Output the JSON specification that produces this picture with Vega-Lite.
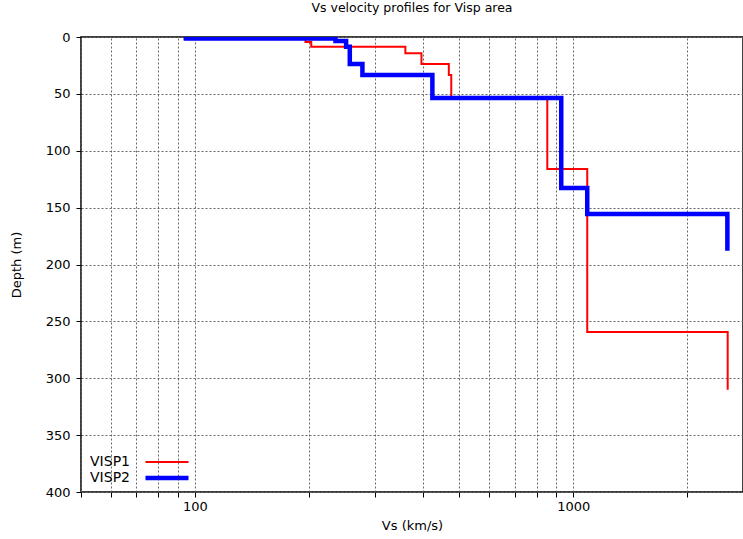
{
  "$schema": "https://vega.github.io/schema/vega-lite/v6.json",
  "width": 662,
  "height": 455,
  "autosize": "none",
  "padding": {"left": 81, "top": 37, "right": 0, "bottom": 47},
  "background": "white",
  "config": {
    "font": "DejaVu Sans",
    "view": {"stroke": "black", "strokeWidth": 1.5},
    "axis": {
      "labelFont": "DejaVu Sans",
      "titleFont": "DejaVu Sans",
      "labelFontSize": 13,
      "titleFontSize": 13,
      "titleFontWeight": "normal",
      "labelColor": "black",
      "titleColor": "black",
      "domain": false,
      "tickColor": "black",
      "gridColor": "#666666",
      "gridDash": [2, 2],
      "gridWidth": 1,
      "gridOpacity": 1
    }
  },
  "title": {
    "text": "Vs velocity profiles for Visp area",
    "font": "DejaVu Sans",
    "fontSize": 12.5,
    "fontWeight": "normal",
    "color": "black",
    "offset": 17
  },
  "data": {
    "values": [
      {"series": "VISP1", "o": 1, "v": 93.4, "d": 1.5},
      {"series": "VISP1", "o": 2, "v": 196, "d": 1.5},
      {"series": "VISP1", "o": 3, "v": 196, "d": 4.5},
      {"series": "VISP1", "o": 4, "v": 203, "d": 4.5},
      {"series": "VISP1", "o": 5, "v": 203, "d": 8.5},
      {"series": "VISP1", "o": 6, "v": 360, "d": 8.5},
      {"series": "VISP1", "o": 7, "v": 360, "d": 14.3},
      {"series": "VISP1", "o": 8, "v": 397, "d": 14.3},
      {"series": "VISP1", "o": 9, "v": 397, "d": 23.7},
      {"series": "VISP1", "o": 10, "v": 469, "d": 23.7},
      {"series": "VISP1", "o": 11, "v": 469, "d": 33.4},
      {"series": "VISP1", "o": 12, "v": 476, "d": 33.4},
      {"series": "VISP1", "o": 13, "v": 476, "d": 53.6},
      {"series": "VISP1", "o": 14, "v": 854, "d": 53.6},
      {"series": "VISP1", "o": 15, "v": 854, "d": 116},
      {"series": "VISP1", "o": 16, "v": 1089, "d": 116},
      {"series": "VISP1", "o": 17, "v": 1089, "d": 259.3},
      {"series": "VISP1", "o": 18, "v": 2560, "d": 259.3},
      {"series": "VISP1", "o": 19, "v": 2560, "d": 310},
      {"series": "VISP2", "o": 1, "v": 93.4, "d": 1.3},
      {"series": "VISP2", "o": 2, "v": 235.3, "d": 1.3},
      {"series": "VISP2", "o": 3, "v": 235.3, "d": 3.5},
      {"series": "VISP2", "o": 4, "v": 251, "d": 3.5},
      {"series": "VISP2", "o": 5, "v": 251, "d": 8.5},
      {"series": "VISP2", "o": 6, "v": 256.7, "d": 8.5},
      {"series": "VISP2", "o": 7, "v": 256.7, "d": 23.7},
      {"series": "VISP2", "o": 8, "v": 277.2, "d": 23.7},
      {"series": "VISP2", "o": 9, "v": 277.2, "d": 33.4},
      {"series": "VISP2", "o": 10, "v": 424.3, "d": 33.4},
      {"series": "VISP2", "o": 11, "v": 424.3, "d": 53.6},
      {"series": "VISP2", "o": 12, "v": 929.6, "d": 53.6},
      {"series": "VISP2", "o": 13, "v": 929.6, "d": 132.7},
      {"series": "VISP2", "o": 14, "v": 1089, "d": 132.7},
      {"series": "VISP2", "o": 15, "v": 1089, "d": 155.6},
      {"series": "VISP2", "o": 16, "v": 2555, "d": 155.6},
      {"series": "VISP2", "o": 17, "v": 2555, "d": 188}
    ]
  },
  "mark": {"type": "line", "strokeJoin": "miter", "strokeCap": "butt", "clip": true},
  "encoding": {
    "x": {
      "field": "v",
      "type": "quantitative",
      "scale": {"type": "log", "domain": [50, 2810], "nice": false},
      "axis": {
        "title": "Vs (km/s)",
        "values": [50, 60, 70, 80, 90, 100, 200, 300, 400, 500, 600, 700, 800, 900, 1000, 2000],
        "format": "d",
        "labelExpr": "datum.value == 100 || datum.value == 1000 ? datum.label : ''",
        "tickSize": 5,
        "labelPadding": 3,
        "titlePadding": 6
      }
    },
    "y": {
      "field": "d",
      "type": "quantitative",
      "scale": {"domain": [0, 400], "reverse": true, "nice": false},
      "axis": {
        "title": "Depth (m)",
        "values": [0, 50, 100, 150, 200, 250, 300, 350, 400],
        "tickSize": 5,
        "labelPadding": 6,
        "titlePadding": 22
      }
    },
    "color": {
      "field": "series",
      "type": "nominal",
      "scale": {"domain": ["VISP1", "VISP2"], "range": ["#ff0000", "#0000ff"]},
      "legend": {
        "title": null,
        "orient": "none",
        "legendX": 79,
        "legendY": 418,
        "symbolType": "M-5,0H5",
        "symbolSize": 74,
        "labelAlign": "right",
        "labelOffset": -44,
        "labelFontSize": 14,
        "labelFont": "DejaVu Sans",
        "labelColor": "black",
        "rowPadding": 0,
        "symbolOffset": 0
      }
    },
    "strokeWidth": {
      "field": "series",
      "type": "nominal",
      "scale": {"domain": ["VISP1", "VISP2"], "range": [2, 4.5]},
      "legend": null
    },
    "order": {"field": "o", "type": "quantitative"}
  }
}
